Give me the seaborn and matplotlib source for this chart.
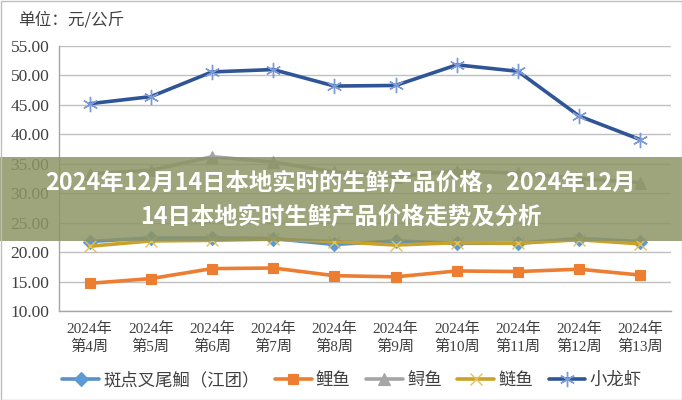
import numpy as np
import pandas as pd
import matplotlib
matplotlib.use("Agg")
import matplotlib.pyplot as plt
from matplotlib.patches import Rectangle
import seaborn as sns

weeks = ["2024年\n第4周", "2024年\n第5周", "2024年\n第6周", "2024年\n第7周", "2024年\n第8周",
         "2024年\n第9周", "2024年\n第10周", "2024年\n第11周", "2024年\n第12周", "2024年\n第13周"]
fish = ["斑点叉尾鮰（江团）", "鲤鱼", "鲟鱼", "鲢鱼", "小龙虾"]
channel_catfish = [21.8, 22.4, 22.4, 22.3, 21.3, 21.9, 21.5, 21.5, 22.3, 21.8]
carp = [14.7, 15.5, 17.2, 17.3, 16.0, 15.8, 16.8, 16.7, 17.1, 16.1]
sturgeon = [33.3, 33.9, 36.2, 35.3, 33.6, 32.8, 33.8, 33.4, 32.5, 31.8]
silver_carp = [21.0, 21.9, 22.0, 22.2, 21.8, 21.2, 21.6, 21.5, 22.1, 21.4]
crayfish = [45.2, 46.4, 50.6, 51.0, 48.2, 48.3, 51.8, 50.7, 43.1, 39.1]
yticks = [10, 15, 20, 25, 30, 35, 40, 45, 50, 55]
title_text = "2024年12月14日本地实时的生鲜产品价格，2024年12月\n14日本地实时生鲜产品价格走势及分析"
unit_text = "单位：元/公斤"

series = [channel_catfish, carp, sturgeon, silver_carp, crayfish]
rows = []
for name, vals in zip(fish, series):
    for i, v in enumerate(vals):
        rows.append({"week": i, "price": v, "fish": name})
df = pd.DataFrame(rows)

sns.set_style("white")
plt.rcParams["font.family"] = ["Liberation Serif", "Noto Sans CJK SC"]
plt.rcParams["axes.unicode_minus"] = False

colors = ["#5b8fc7", "#ed7d31", "#a5a5a5", "#c9a227", "#2f5597"]
mk_colors = ["#5b9bd5", "#ed7d31", "#a5a5a5", "#e2c25a", "#7c9ad6"]
markers = ["D", "s", "^", "x", (6, 2, 0)]
msizes = [7, 7, 8, 8, 11]

fig = plt.figure(figsize=(6.82, 4.0), dpi=100)
ax = fig.add_axes([59 / 682, 89 / 400, 612 / 682, 265 / 400])

sns.lineplot(data=df, x="week", y="price", hue="fish", hue_order=fish,
             palette=colors, linewidth=2.6, legend=False, ax=ax, zorder=3)

lines = ax.get_lines()[:len(fish)]
for ln, m, mc, ms in zip(lines, markers, mk_colors, msizes):
    ln.set_marker(m)
    ln.set_markersize(ms)
    ln.set_markerfacecolor(mc)
    ln.set_markeredgecolor(mc)
    ln.set_markeredgewidth(1.0 if m in ("x",) or isinstance(m, tuple) else 0.8)
    ln.set_solid_capstyle("round")
    ln.set_solid_joinstyle("round")

ax.set_xlim(-0.5, len(weeks) - 0.5)
ax.set_ylim(yticks[0], yticks[-1])
ax.set_yticks(yticks)
ax.set_yticklabels([f"{v:.2f}" for v in yticks], fontsize=12.5, color="#404040")
ax.set_xticks(range(len(weeks)))
ax.set_xticklabels(weeks, fontsize=11, color="#404040", linespacing=1.35)
ax.set_xticks(np.arange(-0.5, len(weeks)), minor=True)
ax.tick_params(axis="x", which="major", length=0, pad=8)
ax.tick_params(axis="x", which="minor", length=5, color="#a6a6a6", width=1)
ax.tick_params(axis="y", length=4, color="#a6a6a6", pad=3)
ax.set_xlabel("")
ax.set_ylabel("")
ax.grid(axis="y", color="#c0c0c0", linewidth=1.0, zorder=0)
ax.grid(axis="x", visible=False)
for s in ["top", "right"]:
    ax.spines[s].set_visible(False)
for s in ["left", "bottom"]:
    ax.spines[s].set_color("#a6a6a6")
    ax.spines[s].set_linewidth(1.0)

fig.text(18 / 682, 1 - 20 / 400, unit_text, fontsize=12, color="#404040",
         va="center", ha="left", family=["Noto Sans CJK SC"])

fig.legend(lines, fish, loc="center", bbox_to_anchor=(0.516, 1 - 380 / 400), ncol=5,
           frameon=False, handlelength=2.1, columnspacing=0.9, handletextpad=0.25,
           prop={"family": ["Noto Sans CJK SC"], "size": 12.5}, labelcolor="#404040")

# banner overlay
fig.patches.append(Rectangle((0, 1 - 241 / 400), 1, 84 / 400, transform=fig.transFigure,
                             facecolor="#8d9566", alpha=0.85, edgecolor="none", zorder=10))
fig.text(0.5, 1 - 200 / 400, title_text, ha="center", va="center", fontsize=16.8,
         fontweight="bold", color="white", family=["Noto Sans CJK SC"],
         linespacing=1.5, zorder=11)

# outer frame
fig.patches.append(Rectangle((0.5 / 682, 0.5 / 400), 681 / 682, 399 / 400, transform=fig.transFigure,
                             facecolor="none", edgecolor="#bfbfbf", linewidth=1.0, zorder=12))

fig.savefig("out.png", dpi=100)
